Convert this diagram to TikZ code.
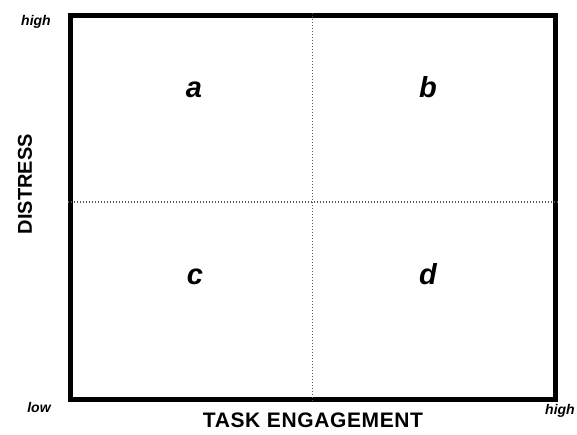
\documentclass[tikz,border=0pt]{standalone}
\usepackage{fontspec}
\setmainfont{Liberation Sans}
\usetikzlibrary{positioning}

\begin{document}
\begin{tikzpicture}[x=1pt, y=1pt,
  frame/.style={draw=black, line width=5pt, inner sep=0pt},
  divider/.style={black!65, line width=1.1pt, dash pattern=on 1.1pt off 1.9pt},
  quad/.style={anchor=base, font=\fontsize{29}{33}\selectfont\bfseries\itshape},
  endlbl/.style={font=\fontsize{14}{16}\selectfont\bfseries\itshape, inner sep=0pt},
  axislbl/.style={font=\fontsize{20}{24}\selectfont\bfseries, inner sep=0pt}]
  \useasboundingbox (0,0) rectangle (577,435);
  \node[frame, minimum width=485.5pt, minimum height=384pt] (box) at (312.75,227.5) {};
  % dividers
  \coordinate (midl) at (box.west |- 0,233);
  \coordinate (midr) at (box.east |- 0,233);
  \draw[divider] (box.north) -- (box.south);
  \draw[divider] (midl) -- (midr);
  % quadrants
  \node[quad] (qa) at (194,337) {a};
  \node[quad] (qb) at (428,337) {b};
  \node[quad] (qc) at (195,150) {c};
  \node[quad] (qd) at (428,150) {d};
  % axes
  \node[endlbl] (yhigh) at (36,413) {high};
  \node[endlbl] (ylow) at (39,28) {low};
  \node[endlbl] (xhigh) at (560,24) {high};
  \node[axislbl, font=\fontsize{21}{24}\selectfont\bfseries\addfontfeature{LetterSpace=3}] (xname) at (313,15) {TASK ENGAGEMENT};
  \node[axislbl, rotate=90] (yname) at (25,251) {DISTRESS};
\end{tikzpicture}
\end{document}
